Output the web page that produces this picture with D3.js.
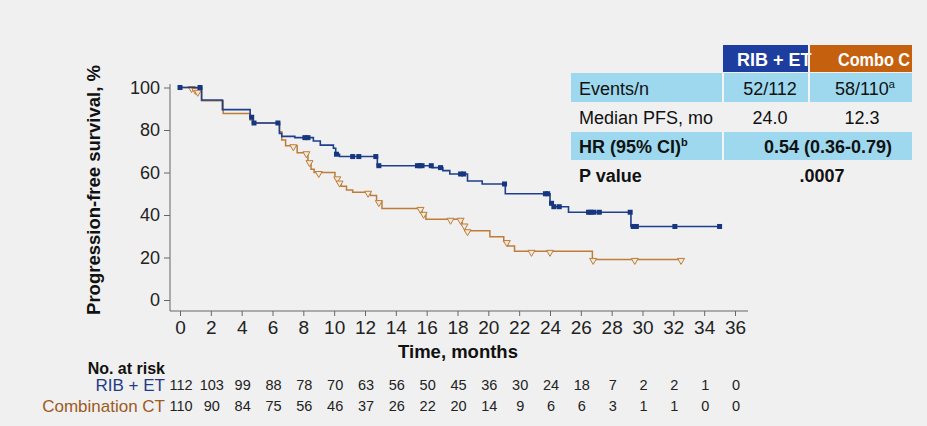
<!DOCTYPE html>
<html>
<head>
<meta charset="utf-8">
<script src="https://cdn.jsdelivr.net/npm/d3@7"></script>
<style>
  html, body { margin: 0; padding: 0; background: #f0f0f0; }
  svg { display: block; }
  .narrow { font-family: "Liberation Sans Narrow", "Arial Narrow", "Liberation Sans", Arial, sans-serif; }
  .reg { font-family: "Liberation Sans", Arial, sans-serif; }
</style>
</head>
<body>
<svg id="chart" width="927" height="426"></svg>
<script>
// ---------- DATA ----------
const xTicks = [0,2,4,6,8,10,12,14,16,18,20,22,24,26,28,30,32,34,36];
const yTicks = [0,20,40,60,80,100];

// Kaplan-Meier steps: [month, survival %]
const ribSteps = [[0,100],[1.4,94.1],[2.75,89.6],[4.55,86],[4.75,83.3],[6.45,78.4],[6.6,77],[7.45,76.4],
  [8.65,74.8],[9.1,72.9],[9.95,71.4],[10.1,68.6],[10.35,67.5],[12.8,63.2],[16.35,62.3],[17.05,60.9],
  [17.5,59.3],[18.65,56],[19.6,54.6],[21.1,50],[24.0,45.5],[24.2,43.9],[25.2,41.3],[29.25,34.6],[35.0,34.6]];
const ribCensors = [0,1.3,4.65,4.8,6.35,8.1,8.3,10.15,11.2,11.6,12.7,12.9,15.4,15.55,15.7,16.3,16.9,
  18.2,18.4,21.05,23.7,23.85,24.1,24.25,24.6,26.5,26.65,26.85,27.2,29.2,29.4,29.6,32.1,35.0];

const ctSteps = [[0,100],[0.85,99.1],[1.1,98.2],[1.4,93.8],[2.8,87.8],[4.55,84.7],[4.7,83.3],[6.45,79.2],
  [6.6,75.3],[6.85,72.6],[7.6,69.3],[8.3,65.1],[8.5,61.5],[8.7,60.0],[10.05,57.5],[10.25,55.5],[10.45,53.5],
  [10.8,51.8],[11.2,50.7],[12.35,49.2],[12.75,46.3],[13.1,43.1],[15.7,40.8],[15.95,38.0],[18.3,35.3],
  [18.5,32.6],[20.1,29.8],[21.0,27.5],[21.25,25.4],[21.7,22.9],[26.75,19.1],[32.5,19.1]];
const ctCensors = [0.75,1.0,1.15,7.35,8.2,8.4,9.0,10.2,10.35,12.2,12.9,15.6,15.8,17.55,18.2,18.45,18.65,
  21.2,22.8,24.0,26.8,29.5,32.5];

const riskMonths = [0,2,4,6,8,10,12,14,16,18,20,22,24,26,28,30,32,34,36];
const riskRib = [112,103,99,88,78,70,63,56,50,45,36,30,24,18,7,2,2,1,0];
const riskCt  = [110,90,84,75,56,46,37,26,22,20,14,9,6,6,3,1,1,0,0];

const seriesNames = ["RIB + ET", "Combination CT"];
const headerNames = ["RIB + ET", "Combo C"];
const tableLabels = ["Events/n", "Median PFS, mo", "HR (95% CI)", "P value"];
const ribTable = ["52/112", "24.0"];
const ctTable = ["58/110", "12.3"];
const hrText = "0.54 (0.36-0.79)";
const pText = ".0007";

// ---------- STYLE ----------
const blue = "#1e3f8e", orange = "#bd7c38";
const blueLabel = "#1f3b87", brownLabel = "#9c5b1f";

const svg = d3.select("#chart");
const x = d3.scaleLinear().domain([0,36]).range([180,735]);
const y = d3.scaleLinear().domain([0,100]).range([300,87.5]);

// axes lines
svg.append("line").attr("x1",170).attr("x2",170).attr("y1",84).attr("y2",311).attr("stroke","#666");
svg.append("line").attr("x1",170).attr("x2",748).attr("y1",311).attr("y2",311).attr("stroke","#666");

const yAxis = svg.append("g").attr("transform","translate(170,0)")
  .call(d3.axisLeft(y).tickValues(yTicks).tickSize(6).tickPadding(4));
yAxis.select(".domain").remove();
yAxis.selectAll("line").attr("stroke","#666");
yAxis.selectAll("text").attr("class","reg").attr("font-size",18).attr("fill","#222");

const xAxis = svg.append("g").attr("transform","translate(0,311)")
  .call(d3.axisBottom(x).tickValues(xTicks).tickSize(5).tickPadding(5));
xAxis.select(".domain").remove();
xAxis.selectAll("line").attr("stroke","#666");
xAxis.selectAll("text").attr("class","narrow").attr("font-size",19).attr("fill","#222");

// axis titles
svg.append("text").attr("class","reg").attr("font-weight","bold").attr("font-size",18.5)
  .attr("fill","#111").attr("text-anchor","middle")
  .attr("transform","translate(100,190) rotate(-90)").text("Progression-free survival, %");
svg.append("text").attr("class","reg").attr("font-weight","bold").attr("font-size",18.5)
  .attr("fill","#111").attr("text-anchor","middle").attr("x",458).attr("y",358).text("Time, months");

// curves
const line = d3.line().x(d=>x(d[0])).y(d=>y(d[1])).curve(d3.curveStepAfter);
function survAt(steps, t){ let v = steps[0][1]; for (const s of steps){ if (s[0] <= t) v = s[1]; } return v; }

svg.append("path").datum(ctSteps).attr("d",line).attr("fill","none").attr("stroke",orange).attr("stroke-width",1.5);
svg.selectAll(".ctc").data(ctCensors).join("path").attr("class","ctc")
  .attr("d",d=>{const cx=x(d), cy=y(survAt(ctSteps,d)); return `M${cx-3.5},${cy-1}L${cx+3.5},${cy-1}L${cx},${cy+5}Z`;})
  .attr("fill","#f3eadf").attr("stroke",orange).attr("stroke-width",1);

svg.append("path").datum(ribSteps).attr("d",line).attr("fill","none").attr("stroke",blue).attr("stroke-width",1.6);
svg.selectAll(".ribc").data(ribCensors).join("rect").attr("class","ribc")
  .attr("x",d=>x(d)-2.5).attr("y",d=>y(survAt(ribSteps,d))-2.5).attr("width",5).attr("height",5)
  .attr("fill","#16367f");

// table
const defs = svg.append("defs");
defs.append("clipPath").attr("id","tclip").append("rect").attr("x",560).attr("y",40).attr("width",352).attr("height",160);
const tb = svg.append("g").attr("clip-path","url(#tclip)");
tb.append("rect").attr("x",723).attr("y",45).attr("width",85).attr("height",27).attr("fill","#1d3e9e");
tb.append("rect").attr("x",810).attr("y",45).attr("width",110).attr("height",27).attr("fill","#c5600f");
tb.append("text").attr("class","reg").attr("font-weight","bold").attr("font-size",18).attr("fill","#fff")
  .attr("x",737).attr("y",66).text(headerNames[0]);
// mask RIB header overflow
tb.append("rect").attr("x",808).attr("y",45).attr("width",2).attr("height",27).attr("fill","#f0f0f0");
svg.append("text").attr("class","reg").attr("font-weight","bold").attr("font-size",18).attr("fill","#fff")
  .attr("x",838).attr("y",66).attr("textLength",72).attr("lengthAdjust","spacingAndGlyphs").text(headerNames[1]);

const rowY = [[73,29],[102,29],[132,28],[160,30]];
const filled = [true,false,true,false];
const lblColor = "#111";
rowY.forEach((r,i)=>{
  if (filled[i]) {
    tb.append("rect").attr("x",571).attr("y",r[0]).attr("width",350).attr("height",r[1]).attr("fill","#9dd8ee");
    tb.append("rect").attr("x",722).attr("y",r[0]).attr("width",2).attr("height",r[1]).attr("fill","#f4f4f4");
    if (i===0) tb.append("rect").attr("x",808).attr("y",r[0]).attr("width",2).attr("height",r[1]).attr("fill","#f4f4f4");
  }
});
const baselines = [95, 124, 153, 182];
tableLabels.forEach((t,i)=>{
  const tx = tb.append("text").attr("class","reg").attr("font-size",18).attr("fill",lblColor)
    .attr("font-weight", i>=2 ? "bold" : "normal").attr("x",579).attr("y",baselines[i]);
  tx.append("tspan").text(t);
  if (i===2) tx.append("tspan").attr("font-size",11).attr("dy",-7).text("b");
});
ribTable.forEach((t,i)=>{
  tb.append("text").attr("class","reg").attr("font-size",18).attr("fill",lblColor).attr("text-anchor","middle")
    .attr("x",770).attr("y",baselines[i]).text(t);
});
ctTable.forEach((t,i)=>{
  const tx = tb.append("text").attr("class","reg").attr("font-size",18).attr("fill",lblColor).attr("text-anchor","middle")
    .attr("x",i===0?865:862).attr("y",baselines[i]);
  tx.append("tspan").text(t);
  if (i===0) tx.append("tspan").attr("font-size",11).attr("dy",-7).text("a");
});
tb.append("text").attr("class","reg").attr("font-size",18).attr("font-weight","bold").attr("fill",lblColor)
  .attr("text-anchor","middle").attr("x",828).attr("y",baselines[2]).text(hrText);
tb.append("text").attr("class","reg").attr("font-size",18).attr("font-weight","bold").attr("fill",lblColor)
  .attr("text-anchor","middle").attr("x",822).attr("y",baselines[3]).text(pText);

// risk table
svg.append("text").attr("class","reg").attr("font-weight","bold").attr("font-size",16).attr("fill","#111")
  .attr("text-anchor","end").attr("x",165).attr("y",374).text("No. at risk");
svg.append("text").attr("class","reg").attr("font-size",17).attr("fill",blueLabel)
  .attr("text-anchor","end").attr("x",165).attr("y",391).text(seriesNames[0]);
svg.append("text").attr("class","reg").attr("font-size",17).attr("fill",brownLabel)
  .attr("text-anchor","end").attr("x",165).attr("y",411.5).text(seriesNames[1]);
svg.selectAll(".r1").data(riskRib).join("text").attr("class","narrow r1").attr("font-size",14.5).attr("fill","#222")
  .attr("text-anchor","middle").attr("x",(d,i)=>x(riskMonths[i])+1).attr("y",390).text(d=>d);
svg.selectAll(".r2").data(riskCt).join("text").attr("class","narrow r2").attr("font-size",14.5).attr("fill","#222")
  .attr("text-anchor","middle").attr("x",(d,i)=>x(riskMonths[i])+1).attr("y",411).text(d=>d);
</script>
</body>
</html>
